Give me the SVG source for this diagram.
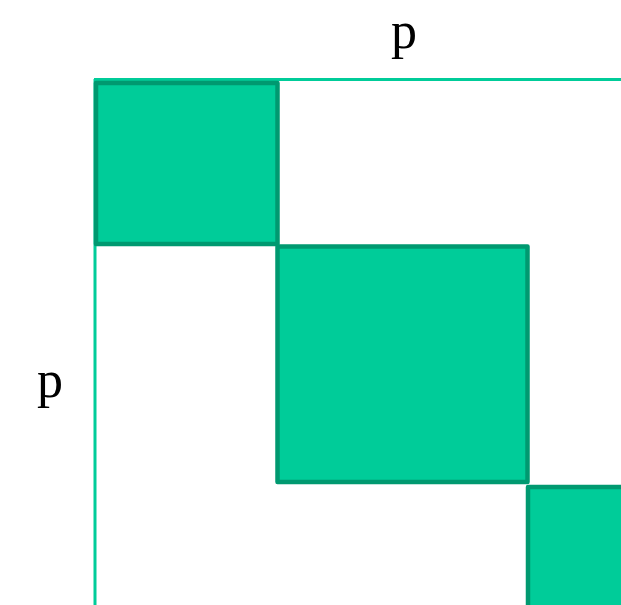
<svg xmlns="http://www.w3.org/2000/svg" width="621" height="605" viewBox="0 0 621 605">
<style>
.frame{stroke:#00CC99;stroke-width:3;fill:none}
.blk{fill:#00CC99;stroke:#009970;stroke-width:4.5;stroke-linejoin:round}
.lbl{font-family:"Liberation Serif",serif;font-size:52px;fill:#000;text-anchor:middle}
</style>
<rect width="621" height="605" fill="#fff"/>
<g id="frame">
<line class="frame" x1="94" y1="79.5" x2="621" y2="79.5"/>
<line class="frame" x1="95" y1="79" x2="95" y2="605"/>
</g>
<g id="block1"><rect class="blk" x="96" y="83" width="181.5" height="161"/></g>
<g id="block2"><rect class="blk" x="277.5" y="246.5" width="250" height="235.5"/></g>
<g id="block3"><rect class="blk" x="528" y="487" width="120" height="150"/></g>
<g id="label-top"><text class="lbl" x="404" y="47.5">p</text></g>
<g id="label-left"><text class="lbl" x="50" y="397">p</text></g>
</svg>
